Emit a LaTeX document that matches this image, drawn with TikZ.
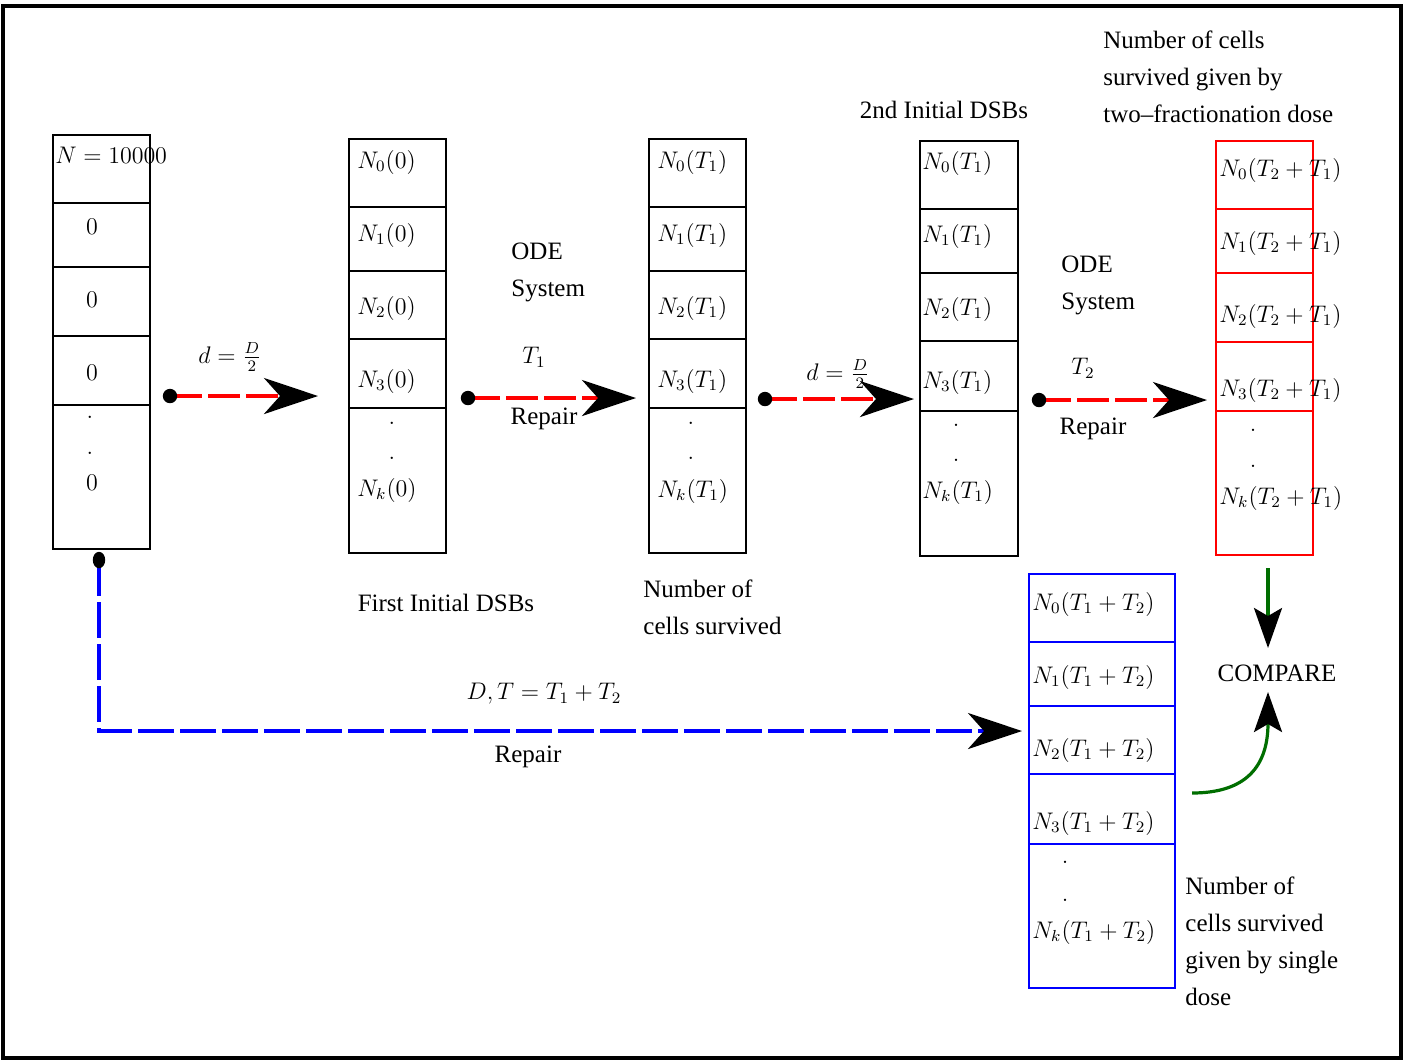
\documentclass[tikz,border=0pt]{standalone}
\usepackage{fontspec}
\setmainfont{Liberation Serif}
\usetikzlibrary{arrows.meta}
\definecolor{dkgreen}{RGB}{0,110,0}
\begin{document}
\begin{tikzpicture}[x=0.5pt,y=-0.5pt,
  txt/.style={font=\fontsize{12.5}{18.5}\selectfont, inner sep=0pt},
  mth/.style={font=\fontsize{11.8}{14}\selectfont, inner sep=0pt},
  lbl/.style={mth, anchor=west},
  cellbox/.style={line width=1pt},
  redbox/.style={red, line width=0.8pt},
  bluebox/.style={blue, line width=1pt},
  bigtip/.style={-{Stealth[length=27pt,width=18pt,inset=8pt,color=black]}},
  smalltip/.style={-{Stealth[length=20pt,width=14pt,inset=4pt,color=black]}},
  reddash/.style={red, line width=2pt, dash pattern=on 16pt off 3pt, bigtip},
  bluedash/.style={blue, line width=1.8pt, dash pattern=on 18pt off 3pt, bigtip},
  greenline/.style={dkgreen, line width=1.6pt, smalltip},
  dotmark/.style={fill=black}
]
\useasboundingbox (0,0) rectangle (1406,1062);
% outer frame
\draw[line width=2pt] (3,6) rectangle (1401,1058);

% ---------- column 1 ----------
\draw[cellbox] (53,135) rectangle (150,549);
\foreach \y in {203,267,336,405} \draw[cellbox] (53,\y) -- (150,\y);
\node[lbl] (c1a) at (55,155) {$N=10000$};
\node[mth] (c1b) at (92,227) {$0$};
\node[mth] (c1c) at (92,300) {$0$};
\node[mth] (c1d) at (92,373) {$0$};
\node[mth] (c1e) at (90,417) {$.$};
\node[mth] (c1f) at (90,453) {$.$};
\node[mth] (c1g) at (92,483) {$0$};

% ---------- column 2 ----------
\draw[cellbox] (349,139) rectangle (446,553);
\foreach \y in {207,271,339,408} \draw[cellbox] (349,\y) -- (446,\y);
\node[lbl] (c2a) at (357,162) {$N_0(0)$};
\node[lbl] (c2b) at (357,235) {$N_1(0)$};
\node[lbl] (c2c) at (357,308) {$N_2(0)$};
\node[lbl] (c2d) at (357,381) {$N_3(0)$};
\node[mth] (c2e) at (392,423) {$.$};
\node[mth] (c2f) at (392,458) {$.$};
\node[lbl] (c2g) at (357,490) {$N_k(0)$};

% ---------- column 3 ----------
\draw[cellbox] (649,139) rectangle (746,553);
\foreach \y in {207,271,339,408} \draw[cellbox] (649,\y) -- (746,\y);
\node[lbl] (c3a) at (657,162) {$N_0(T_1)$};
\node[lbl] (c3b) at (657,235) {$N_1(T_1)$};
\node[lbl] (c3c) at (657,308) {$N_2(T_1)$};
\node[lbl] (c3d) at (657,381) {$N_3(T_1)$};
\node[mth] (c3e) at (691,423) {$.$};
\node[mth] (c3f) at (691,458) {$.$};
\node[lbl] (c3g) at (657,491) {$N_k(T_1)$};

% ---------- column 4 ----------
\draw[cellbox] (920,141) rectangle (1018,556);
\foreach \y in {209,273,341,411} \draw[cellbox] (920,\y) -- (1018,\y);
\node[lbl] (c4a) at (922,163) {$N_0(T_1)$};
\node[lbl] (c4b) at (922,236) {$N_1(T_1)$};
\node[lbl] (c4c) at (922,309) {$N_2(T_1)$};
\node[lbl] (c4d) at (922,382) {$N_3(T_1)$};
\node[mth] (c4e) at (956,425) {$.$};
\node[mth] (c4f) at (956,460) {$.$};
\node[lbl] (c4g) at (922,492) {$N_k(T_1)$};

% ---------- column 5 (red) ----------
\draw[redbox] (1216,141) rectangle (1313,555);
\foreach \y in {209,273,342,411} \draw[redbox] (1216,\y) -- (1313,\y);
\node[lbl] (c5a) at (1219,170) {$N_0(T_2+T_1)$};
\node[lbl] (c5b) at (1219,243) {$N_1(T_2+T_1)$};
\node[lbl] (c5c) at (1219,316) {$N_2(T_2+T_1)$};
\node[lbl] (c5d) at (1219,390) {$N_3(T_2+T_1)$};
\node[mth] (c5e) at (1253,430) {$.$};
\node[mth] (c5f) at (1253,466) {$.$};
\node[lbl] (c5g) at (1219,498) {$N_k(T_2+T_1)$};

% ---------- column 6 (blue) ----------
\draw[bluebox] (1029,574) rectangle (1175,988);
\foreach \y in {642,706,774,844} \draw[bluebox] (1029,\y) -- (1175,\y);
\node[lbl] (c6a) at (1032,604) {$N_0(T_1+T_2)$};
\node[lbl] (c6b) at (1032,677) {$N_1(T_1+T_2)$};
\node[lbl] (c6c) at (1032,750) {$N_2(T_1+T_2)$};
\node[lbl] (c6d) at (1032,823) {$N_3(T_1+T_2)$};
\node[mth] (c6e) at (1065,862) {$.$};
\node[mth] (c6f) at (1065,900) {$.$};
\node[lbl] (c6g) at (1032,932) {$N_k(T_1+T_2)$};

% ---------- arrows ----------
\coordinate (s1) at (170,396); \coordinate (e1) at (318,396);
\coordinate (s2) at (468,398); \coordinate (e2) at (636,398);
\coordinate (s3) at (765,399); \coordinate (e3) at (914,399);
\coordinate (s4) at (1039,400); \coordinate (e4) at (1207,400);
\coordinate (s5) at (99,560); \coordinate (e5) at (1022,731);
\coordinate (g1s) at (1268,568); \coordinate (g1e) at (1268,648);
\coordinate (g2s) at (1192,793); \coordinate (g2e) at (1268,692);

\draw[reddash] (s1) -- (e1);
\draw[reddash] (s2) -- (e2);
\draw[reddash] (s3) -- (e3);
\draw[reddash] (s4) -- (e4);
\draw[bluedash] (s5) |- (e5);
\draw[greenline] (g1s) -- (g1e);
\draw[greenline] (g2s) .. controls (1240,793) and (1268,772) .. (g2e);

\foreach \p in {s1,s2,s3,s4} \fill[dotmark] (\p) circle[radius=3.6pt];
\fill[dotmark] (s5) ellipse[x radius=3.1pt, y radius=4.1pt];

% ---------- labels ----------
\node[mth] (l1) at (230,357) {$d=\frac{D}{2}$};
\node[txt,anchor=west,align=left] (ode1) at (511,272) {ODE\\System};
\node[mth] (t1) at (534,357) {$T_1$};
\node[txt] (rep1) at (544,419) {Repair};
\node[mth] (l3) at (838,374) {$d=\frac{D}{2}$};
\node[txt,anchor=west,align=left] (ode2) at (1061,285) {ODE\\System};
\node[mth] (t2) at (1083,368) {$T_2$};
\node[txt] (rep2) at (1093,429) {Repair};
\node[mth] (lb) at (544,694) {$D,T=T_1+T_2$};
\node[txt] (rep3) at (528,757) {Repair};

\node[txt] (dsb2) at (944,110) {2nd Initial DSBs};
\node[txt,anchor=west,align=left] (ntwo) at (1103,77) {Number of cells\\survived given by\\two--fractionation dose};
\node[txt] (dsb1) at (446,603) {First Initial DSBs};
\node[txt,anchor=west,align=left] (nsurv) at (643,607) {Number of\\cells survived};
\node[txt,anchor=west,align=left] (nsing) at (1185,941) {Number of\\cells survived\\given by single\\dose};
\node[txt] (cmp) at (1277,673) {COMPARE};
\end{tikzpicture}
\end{document}
